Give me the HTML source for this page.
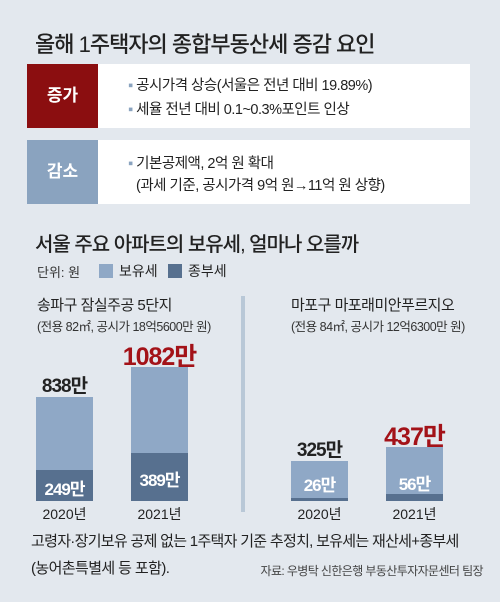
<!DOCTYPE html>
<html><head><meta charset="utf-8"><style>
body{margin:0;width:500px;height:602px;background:#e3e8ee;font-family:"Liberation Sans","Noto Sans CJK KR",sans-serif;position:relative;overflow:hidden;color:#222}
.a{position:absolute;white-space:nowrap}
</style></head><body>
<div class="a" style="left:35px;top:27px;font-size:22px;font-weight:500;letter-spacing:-1px">올해 1주택자의 종합부동산세 증감 요인</div>
<div class="a" style="left:27px;top:64px;width:443px;height:64px;background:#fff"></div>
<div class="a" style="left:27px;top:64px;width:71px;height:64px;background:#8b0e10;color:#fff;font-size:17px;font-weight:bold;line-height:64px;text-align:center">증가</div>
<div class="a" style="left:128px;top:74px;font-size:14.5px;letter-spacing:-0.5px"><span style="color:#8aa3bf">▪</span> 공시가격 상승(서울은 전년 대비 19.89%)</div>
<div class="a" style="left:128px;top:98px;font-size:14.5px;letter-spacing:-0.5px"><span style="color:#8aa3bf">▪</span> 세율 전년 대비 0.1~0.3%포인트 인상</div>
<div class="a" style="left:27px;top:140px;width:443px;height:64px;background:#fff"></div>
<div class="a" style="left:27px;top:140px;width:71px;height:64px;background:#8aa3bf;color:#fff;font-size:17px;font-weight:bold;line-height:64px;text-align:center">감소</div>
<div class="a" style="left:128px;top:152px;font-size:14.5px;letter-spacing:-0.5px"><span style="color:#8aa3bf">▪</span> 기본공제액, 2억 원 확대</div>
<div class="a" style="left:136px;top:174px;font-size:14.5px;letter-spacing:-0.5px">(과세 기준, 공시가격 9억 원→11억 원 상향)</div>
<div class="a" style="left:35px;top:228px;font-size:20px;font-weight:500;letter-spacing:-1px">서울 주요 아파트의 보유세, 얼마나 오를까</div>
<div class="a" style="left:37px;top:262px;font-size:13px;color:#333">단위: 원</div>
<div class="a" style="left:99px;top:264px;width:14px;height:14px;background:#8fa8c6"></div>
<div class="a" style="left:119px;top:261px;font-size:14px">보유세</div>
<div class="a" style="left:168px;top:264px;width:14px;height:14px;background:#57708f"></div>
<div class="a" style="left:188px;top:261px;font-size:14px">종부세</div>
<div class="a" style="left:241px;top:296px;width:4px;height:216px;background:#b9c8d7"></div>
<div class="a" style="left:37px;top:294px;font-size:15px;letter-spacing:-0.5px">송파구 잠실주공 5단지</div>
<div class="a" style="left:37px;top:316px;font-size:12.5px;color:#333;letter-spacing:-0.5px">(전용 82㎡, 공시가 18억5600만 원)</div>
<div class="a" style="left:291px;top:294px;font-size:15px;letter-spacing:-0.5px">마포구 마포래미안푸르지오</div>
<div class="a" style="left:291px;top:316px;font-size:12.5px;color:#333;letter-spacing:-0.5px">(전용 84㎡, 공시가 12억6300만 원)</div>
<div id="chart"></div>
<div class="a" style="left:31px;top:530px;font-size:15px;letter-spacing:-0.7px">고령자·장기보유 공제 없는 1주택자 기준 추정치, 보유세는 재산세+종부세</div>
<div class="a" style="left:31px;top:557px;font-size:15px;letter-spacing:-0.6px">(농어촌특별세 등 포함).</div>
<div class="a" style="right:17px;top:562px;font-size:12px;color:#444;letter-spacing:-0.6px">자료: 우병탁 신한은행 부동산투자자문센터 팀장</div>
<script>
const years=["2020년","2021년","2020년","2021년"];
const holdingTax=[838,1082,325,437];
const compTax=[249,389,26,56];
const compLabels=["249만","389만","26만","56만"];
const highlight=[false,true,false,true];
const barX=[36,131,291,386], barW=57, baseY=501, k=0.124;
const c=document.getElementById('chart');
function y(v){return baseY-v*k;}
function div(css,name){const d=document.createElement('div');d.className='a';d.style.cssText=css;


c.appendChild(d);return d;}
holdingTax.forEach((v,i)=>{
 const x=barX[i];
 div(`left:${x}px;top:${y(v)}px;width:${barW}px;height:${v*k}px;background:#8fa8c6`,'bar-holding-'+i);
 div(`left:${x}px;top:${y(compTax[i])}px;width:${barW}px;height:${compTax[i]*k}px;background:#57708f`,'bar-comp-'+i);
 const t=div(`left:${x-20}px;width:${barW+40}px;text-align:center;top:${y(v)-(highlight[i]?30:26)}px;font-size:${highlight[i]?25:19}px;font-weight:bold;letter-spacing:-1px;color:${highlight[i]?'#a31218':'#222'}`,'value-label-'+i);
 t.textContent=v+'만';
 const ctop=compTax[i]>100?(y(compTax[i])+baseY)/2-11:baseY-28-compTax[i]*k*0.5;
 const cl=div(`left:${x}px;width:${barW}px;text-align:center;top:${ctop}px;font-size:17px;font-weight:bold;letter-spacing:-1px;color:#fff`,'comp-label-'+i);
 cl.textContent=compLabels[i];
 const yl=div(`left:${x-10}px;width:${barW+20}px;text-align:center;top:504px;font-size:14px`,'year-label-'+i);
 yl.textContent=years[i];
});
</script>
</body></html>
